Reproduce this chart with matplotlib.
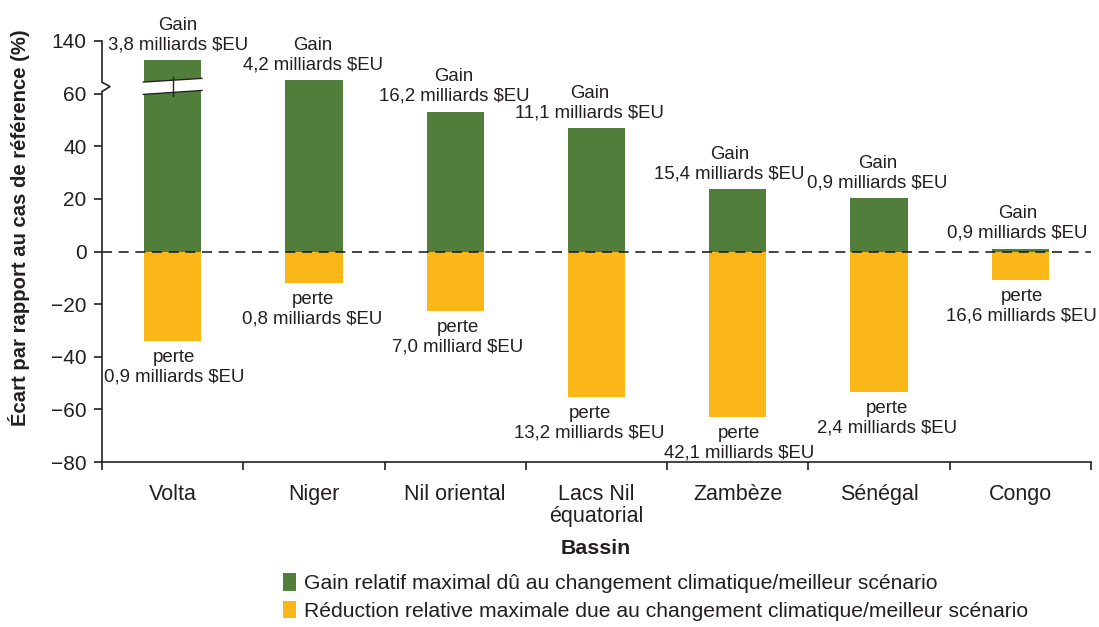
import matplotlib
matplotlib.use("Agg")
import matplotlib.pyplot as plt
from matplotlib.patches import Patch, Polygon
from matplotlib import transforms

# ---- data ----
basins = ["Volta", "Niger", "Nil oriental", "Lacs Nil\néquatorial", "Zambèze", "Sénégal", "Congo"]
gain_pct = [111, 65, 53.2, 46.8, 23.6, 20.2, 1.1]
loss_pct = [-34, -12, -22.7, -55.4, -63, -53.5, -10.9]
gain_usd = ["3,8 milliards $EU", "4,2 milliards $EU", "16,2 milliards $EU", "11,1 milliards $EU",
            "15,4 milliards $EU", "0,9 milliards $EU", "0,9 milliards $EU"]
loss_usd = ["0,9 milliards $EU", "0,8 milliards $EU", "7,0 milliard $EU", "13,2 milliards $EU",
            "42,1 milliards $EU", "2,4 milliards $EU", "16,6 milliards $EU"]
broken_bar = [True, False, False, False, False, False, False]
ytick_values = [-80, -60, -40, -20, 0, 20, 40, 60, 140]
legend_labels = ["Gain relatif maximal dû au changement climatique/meilleur scénario",
                 "Réduction relative maximale due au changement climatique/meilleur scénario"]

# ---- style ----
GREEN = "#517F3B"
YELLOW = "#FBB617"
TXT = "#231F20"
LINE = "#222222"
plt.rcParams['font.family'] = ['Liberation Sans', 'DejaVu Sans']
plt.rcParams['text.color'] = TXT
plt.rcParams['xtick.color'] = TXT
plt.rcParams['ytick.color'] = TXT

BREAK = 60.0
SCALE = 4.0


def disp(v, broken=True):
    """Map a value onto the broken axis (60..140 compressed into 60..80)."""
    if not broken or v <= BREAK:
        return v
    return BREAK + (v - BREAK) / SCALE


fig = plt.figure(figsize=(10.99, 6.27), dpi=100)
ax = fig.add_axes([102 / 1099, 1 - 462 / 627, (1091 - 102) / 1099, (462 - 41) / 627])

x = list(range(len(basins)))
gain_disp = [disp(v, b) for v, b in zip(gain_pct, broken_bar)]
width = 0.405
ax.bar(x, gain_disp, width=width, color=GREEN, zorder=2)
ax.bar(x, loss_pct, width=width, color=YELLOW, zorder=2)

ax.set_xlim(-0.5, len(basins) - 0.5)
ax.set_ylim(-80, 80)

# zero reference line
ax.axhline(0, color=LINE, lw=1.2, ls=(0, (6, 4)), zorder=3)

# axis break inside the broken bar(s)
for i, b in enumerate(broken_bar):
    if not b:
        continue
    xl, xr = i - width / 2 - 0.005, i + width / 2 + 0.005
    gap = Polygon([[xl, 64.4], [xr, 65.8], [xr, 61.2], [xl, 59.7]], closed=True,
                  facecolor="white", edgecolor="none", zorder=4)
    ax.add_patch(gap)
    ax.plot([xl, xr], [64.4, 65.8], color=LINE, lw=1.0, zorder=5)
    ax.plot([xl, xr], [59.7, 61.2], color=LINE, lw=1.0, zorder=5)
    ax.plot([i, i], [59.0, 66.3], color=LINE, lw=1.0, zorder=5)

# spines
for s in ["top", "right", "left"]:
    ax.spines[s].set_visible(False)
ax.spines["bottom"].set_color(LINE)
ax.spines["bottom"].set_linewidth(1.2)
zz = 0.057
ax.plot([-0.5, -0.5, -0.5 + zz, -0.5, -0.5], [80, 64.3, 62.7, 60.8, -80],
        color=LINE, lw=1.2, clip_on=False, zorder=6, solid_joinstyle="miter")

# ticks
ax.set_yticks([disp(v) for v in ytick_values])
ax.set_yticklabels(["\u2212" + str(-v) if v < 0 else str(v) for v in ytick_values], fontsize=15)
ax.tick_params(axis="y", length=6, width=1.2, pad=5, direction="out")
ax.set_xticks([i - 0.5 for i in range(len(basins) + 1)])
ax.set_xticklabels([])
ax.tick_params(axis="x", length=6, width=1.2, direction="out")
cat_tr = ax.transData + transforms.ScaledTranslation(0, -16 / 72, fig.dpi_scale_trans)
for i, name in enumerate(basins):
    ax.text(i, -80, name, transform=cat_tr, ha="center", va="top", fontsize=15.5,
            linespacing=1.05, color=TXT)

# annotations
gain_dx = [4, -1, -1, -5, -6, -1, -2]
loss_dx = [1, -1, 2, -5, 1, 6, 1]
for i in x:
    ax.annotate("Gain\n" + gain_usd[i], xy=(i, gain_disp[i]), xytext=(gain_dx[i], 5),
                textcoords="offset points", ha="center", va="bottom", fontsize=13.4,
                multialignment="center", linespacing=1.2)
    ax.annotate("perte\n" + loss_usd[i], xy=(i, loss_pct[i]), xytext=(loss_dx[i], -5.5),
                textcoords="offset points", ha="center", va="top", fontsize=13.4,
                multialignment="center", linespacing=1.2)

# axis titles
fig.text(19 / 1099, 1 - 228 / 627, "Écart par rapport au cas de référence (%)", rotation=90,
         ha="center", va="center", fontsize=14.6, fontweight="bold")
fig.text(596 / 1099, 1 - 548 / 627, "Bassin", ha="center", va="center", fontsize=15.4,
         fontweight="bold")

# legend
handles = [Patch(facecolor=GREEN, edgecolor="none"), Patch(facecolor=YELLOW, edgecolor="none")]
fig.legend(handles, legend_labels, loc="center left", bbox_to_anchor=(272 / 1099, 1 - 597 / 627),
           frameon=False, fontsize=15.2, handlelength=0.62, handleheight=0.9,
           handletextpad=0.4, labelspacing=0.36, borderpad=0)

fig.savefig("out.png", dpi=100)
